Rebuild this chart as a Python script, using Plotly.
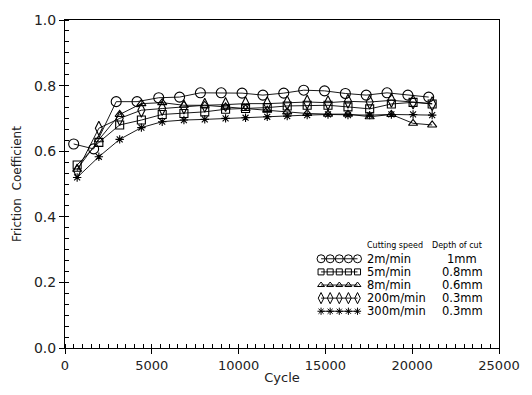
import plotly.graph_objects as go

# ---------------- data ----------------
cycles_2 = [500, 1650, 2950, 4150, 5400, 6600, 7800, 9000, 10200, 11400, 12600, 13750, 14950, 16150, 17350, 18550, 19750, 20950]
cycles_other = [700, 1950, 3150, 4400, 5600, 6850, 8050, 9250, 10400, 11650, 12800, 13950, 15150, 16300, 17550, 18800, 20050, 21150]

mu_2 = [0.622, 0.607, 0.751, 0.751, 0.763, 0.765, 0.778, 0.778, 0.777, 0.771, 0.777, 0.786, 0.784, 0.776, 0.771, 0.778, 0.771, 0.765]
mu_5 = [0.558, 0.627, 0.680, 0.695, 0.712, 0.715, 0.720, 0.728, 0.730, 0.733, 0.738, 0.740, 0.740, 0.735, 0.729, 0.744, 0.749, 0.744]
mu_8 = [0.545, 0.635, 0.712, 0.745, 0.748, 0.740, 0.740, 0.735, 0.730, 0.725, 0.720, 0.715, 0.713, 0.713, 0.705, 0.712, 0.685, 0.680]
mu_200 = [0.540, 0.670, 0.700, 0.725, 0.730, 0.735, 0.740, 0.742, 0.745, 0.745, 0.748, 0.750, 0.748, 0.752, 0.750, 0.755, 0.750, 0.745]
mu_300 = [0.520, 0.583, 0.636, 0.672, 0.690, 0.695, 0.697, 0.700, 0.702, 0.705, 0.707, 0.710, 0.712, 0.710, 0.710, 0.712, 0.712, 0.710]

speeds = ["2m/min", "5m/min", "8m/min", "200m/min", "300m/min"]
depths = ["1mm", "0.8mm", "0.6mm", "0.3mm", "0.3mm"]

x_ticks = [0, 5000, 10000, 15000, 20000, 25000]
y_ticks = [0.0, 0.2, 0.4, 0.6, 0.8, 1.0]

# ---------------- styles ----------------
series = [
    (cycles_2, mu_2, "circle-open", 10),
    (cycles_other, mu_5, "square-open", 8),
    (cycles_other, mu_8, "triangle-up-open", 8),
    (cycles_other, mu_200, "diamond-tall-open", 10),
    (cycles_other, mu_300, "asterisk-open", 7),
]

FONT = "DejaVu Sans"
fig = go.Figure()

for (xs, ys, sym, sz), name in zip(series, speeds):
    fig.add_trace(go.Scatter(
        x=xs, y=ys, mode="lines+markers", name=name, showlegend=False,
        line=dict(color="black", width=0.9),
        marker=dict(symbol=sym, size=sz, color="black", line=dict(color="black", width=1.1)),
    ))

# ---------- custom legend (overlay axis in paper-like units) ----------
row_y = [0.272, 0.232, 0.192, 0.152, 0.112]
sample_x = [0.590, 0.611, 0.632, 0.653, 0.674]
for (xs, ys, sym, sz), ry in zip(series, row_y):
    fig.add_trace(go.Scatter(
        x=sample_x, y=[ry] * len(sample_x), xaxis="x2", yaxis="y2",
        mode="lines+markers", showlegend=False, hoverinfo="skip",
        line=dict(color="black", width=0.9),
        marker=dict(symbol=sym, size=max(sz - 2, 6), color="black", line=dict(color="black", width=1)),
    ))

annotations = [
    dict(x=0.692, y=0.312, xref="paper", yref="paper", text="Cutting speed", showarrow=False,
         xanchor="left", yanchor="middle", font=dict(family=FONT, size=8, color="black")),
    dict(x=0.903, y=0.312, xref="paper", yref="paper", text="Depth of cut", showarrow=False,
         xanchor="center", yanchor="middle", font=dict(family=FONT, size=8, color="black")),
]
for name, depth, ry in zip(speeds, depths, row_y):
    annotations.append(dict(x=0.692, y=ry, xref="paper", yref="paper", text=name, showarrow=False,
                            xanchor="left", yanchor="middle", font=dict(family=FONT, size=11.5, color="black")))
    annotations.append(dict(x=0.915, y=ry, xref="paper", yref="paper", text=depth, showarrow=False,
                            xanchor="center", yanchor="middle", font=dict(family=FONT, size=11.5, color="black")))

fig.update_layout(
    width=532, height=395,
    margin=dict(l=65, r=25, t=14, b=38),
    paper_bgcolor="white", plot_bgcolor="white",
    font=dict(family=FONT, size=12, color="#222"),
    annotations=annotations,
    xaxis=dict(
        range=[0, 25000], tickvals=x_ticks, ticktext=[str(v) for v in x_ticks],
        showgrid=False, zeroline=False, showline=True, linecolor="black", linewidth=1, mirror=True,
        ticks="outside", ticklen=5, tickcolor="black",
        minor=dict(dtick=500, ticks="inside", ticklen=4, tickcolor="black", showgrid=False),
        title=dict(text="Cycle", font=dict(size=13, family=FONT), standoff=1),
        tickfont=dict(size=13, family=FONT),
    ),
    yaxis=dict(
        range=[0, 1.0], tickvals=y_ticks, ticktext=[f"{v:.1f}" for v in y_ticks],
        showgrid=False, zeroline=False, showline=True, linecolor="black", linewidth=1, mirror=True,
        ticks="outside", ticklen=5, tickcolor="black",
        minor=dict(dtick=0.2 / 6, ticks="inside", ticklen=4, tickcolor="black", showgrid=False),
        title=dict(text="Friction  Coefficient", font=dict(size=12, family=FONT), standoff=9),
        tickfont=dict(size=14, family=FONT),
    ),
    xaxis2=dict(range=[0, 1], domain=[0, 1], overlaying="x", anchor="y2", visible=False, fixedrange=True),
    yaxis2=dict(range=[0, 1], domain=[0, 1], overlaying="y", anchor="x2", visible=False, fixedrange=True),
)

fig.write_html(
    "out.html",
    config={"displayModeBar": False},
    post_script="document.body.style.margin='0';document.body.style.padding='0';document.body.style.overflow='hidden';",
)
